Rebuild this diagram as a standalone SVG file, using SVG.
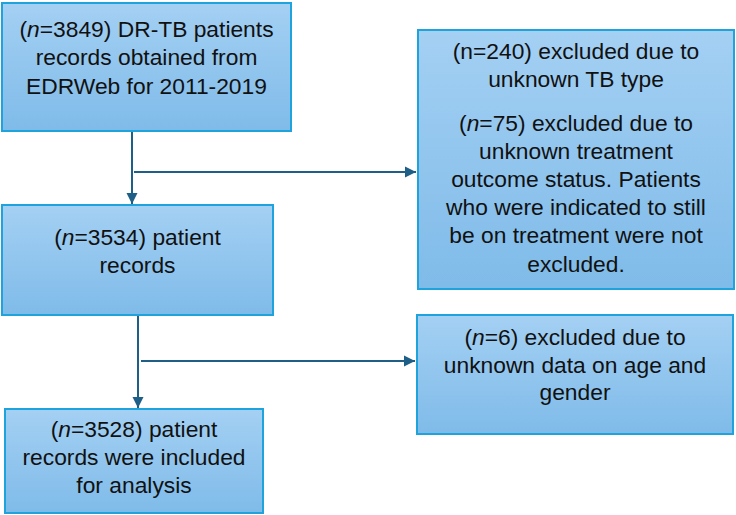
<svg xmlns="http://www.w3.org/2000/svg" width="736" height="515" viewBox="0 0 736 515">
<defs>
<linearGradient id="g" x1="0" y1="0" x2="0" y2="1">
<stop offset="0" stop-color="#a4d0f3"/>
<stop offset="1" stop-color="#7fbbe9"/>
</linearGradient>
<marker id="ah" markerWidth="12" markerHeight="12" refX="11" refY="6" orient="auto" markerUnits="userSpaceOnUse">
<path d="M0,0.5 L11,6 L0,11.5 Z" fill="#1d5f86"/>
</marker>
<style>
.box{fill:url(#g);stroke:#1ea3dc;stroke-width:2}
.t{font-family:"Liberation Sans",Arial,sans-serif;font-size:22.8px;fill:#111;text-anchor:middle}
.c{stroke:#1d5f86;stroke-width:2;fill:none}
</style>
</defs>
<rect width="736" height="515" fill="#fff"/>
<g id="connectors">
<line class="c" x1="132" y1="131" x2="132" y2="204" marker-end="url(#ah)"/>
<line class="c" x1="134" y1="172" x2="416" y2="172" marker-end="url(#ah)"/>
<line class="c" x1="138" y1="315" x2="138" y2="408" marker-end="url(#ah)"/>
<line class="c" x1="141" y1="361" x2="415" y2="361" marker-end="url(#ah)"/>
</g>
<g id="n1">
<rect class="box" x="2" y="3" width="289" height="128"/>
<text class="t" x="146.5" y="37">(<tspan font-style="italic">n</tspan>=3849) DR-TB patients</text>
<text class="t" x="146.5" y="65">records obtained from</text>
<text class="t" x="146.5" y="94">EDRWeb for 2011-2019</text>
</g>
<g id="n2">
<rect class="box" x="418" y="30" width="316" height="259"/>
<text class="t" x="576" y="59">(n=240) excluded due to</text>
<text class="t" x="576" y="87">unknown TB type</text>
<text class="t" x="576" y="131">(<tspan font-style="italic">n</tspan>=75) excluded due to</text>
<text class="t" x="576" y="159">unknown treatment</text>
<text class="t" x="576" y="187">outcome status. Patients</text>
<text class="t" x="576" y="215">who were indicated to still</text>
<text class="t" x="576" y="243">be on treatment were not</text>
<text class="t" x="576" y="272">excluded.</text>
</g>
<g id="n3">
<rect class="box" x="2" y="205" width="271" height="110"/>
<text class="t" x="137.5" y="245">(<tspan font-style="italic">n</tspan>=3534) patient</text>
<text class="t" x="137.5" y="273">records</text>
</g>
<g id="n4">
<rect class="box" x="5" y="409" width="258" height="104"/>
<text class="t" x="134" y="437">(<tspan font-style="italic">n</tspan>=3528) patient</text>
<text class="t" x="134" y="465">records were included</text>
<text class="t" x="134" y="493">for analysis</text>
</g>
<g id="n5">
<rect class="box" x="417" y="315" width="316" height="119"/>
<text class="t" x="575" y="345">(<tspan font-style="italic">n</tspan>=6) excluded due to</text>
<text class="t" x="575" y="373">unknown data on age and</text>
<text class="t" x="575" y="400">gender</text>
</g>
</svg>
